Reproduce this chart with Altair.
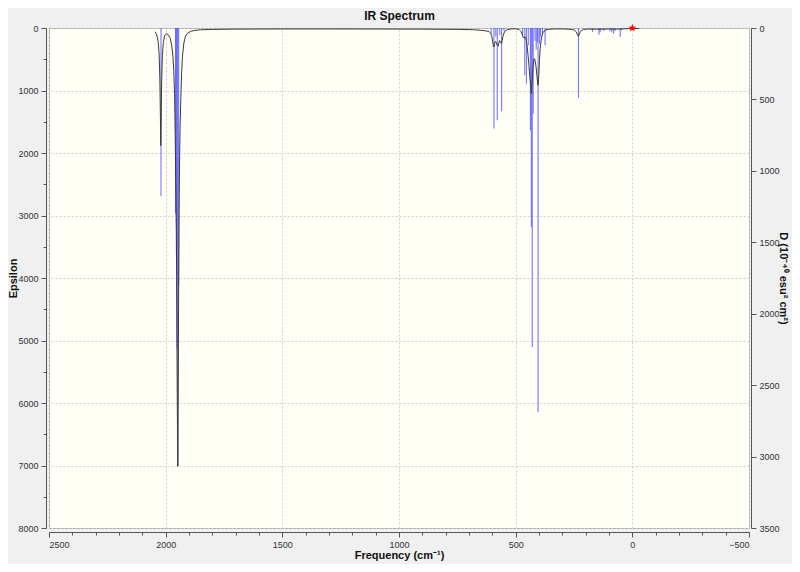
import altair as alt
import pandas as pd

# ---- data ----
curve_freq = [2045, 2038, 2032, 2028, 2025, 2023, 2021, 2019, 2017, 2014, 2010, 2004, 1996, 1988,
              1980, 1974, 1969, 1965, 1962, 1959, 1956, 1954, 1952, 1950, 1948, 1946, 1944, 1942,
              1940, 1938, 1935, 1932, 1928, 1922, 1915, 1905, 1890, 1870, 1850, 1800, 1700, 1500,
              1300, 1100, 900, 750, 680, 650, 630, 615, 608, 603, 599, 596, 593, 590, 587, 584,
              580, 578, 575, 572, 569, 565, 561, 558, 555, 550, 545, 535, 520, 500, 485, 476,
              471, 467, 464, 461, 457, 453, 450, 447, 443, 439, 436, 433, 430, 427, 424, 421,
              418, 415, 412, 409, 406, 404, 401, 398, 395, 391, 387, 383, 378, 370, 360, 330,
              290, 260, 248, 241, 237, 234, 231, 228, 224, 218, 210, 195, 170, 140, 100, 60,
              30, 0, -30]
curve_eps = [60, 110, 220, 420, 800, 1300, 1880, 1350, 820, 430, 230, 120, 90, 110,
             170, 280, 450, 700, 1050, 1700, 2700, 3300, 4800, 6100, 7010, 5600, 3900, 2700,
             2000, 1550, 1150, 750, 450, 240, 130, 80, 50, 35, 28, 22, 18, 15,
             15, 16, 18, 22, 28, 37, 45, 55, 80, 120, 210, 280, 304, 250, 215, 225,
             270, 280, 290, 240, 200, 215, 250, 200, 140, 80, 45, 25, 15, 12, 25, 60,
             117, 150, 160, 145, 150, 230, 320, 437, 600, 800, 900, 1051, 900, 710, 560, 490,
             500, 560, 640, 760, 880, 917, 760, 520, 330, 200, 120, 75, 50, 30, 20, 14,
             16, 22, 35, 60, 90, 120, 130, 110, 70, 40, 25, 17, 18, 20, 15, 18,
             12, 10, 8]

stick_freq = [2020, 1958, 1954, 1951, 1948, 1944, 605, 593, 585, 579, 568, 560, 550,
              470, 461, 454, 446, 437, 433, 429, 425, 417, 412, 407, 404, 397, 393, 385, 374,
              231, 171, 143, 138, 121, 96, 88, 80, 74, 52, 46]
stick_D = [1177, 1300, 1590, 2240, 3070, 1800, 40, 704, 60, 646, 50, 583, 20,
           60, 331, 390, 120, 716, 1393, 2233, 600, 90, 150, 98, 2688, 110, 60, 40, 121,
           488, 28, 47, 30, 20, 22, 30, 40, 20, 63, 15]

marker_freq = [0]
marker_eps = [0]

x_major = [2500, 2000, 1500, 1000, 500, 0, -500]
x_minor = list(range(-500, 2501, 100))
y_left_major = [0, 1000, 2000, 3000, 4000, 5000, 6000, 7000, 8000]
y_left_minor = list(range(0, 8001, 500))
y_right_major = [0, 500, 1000, 1500, 2000, 2500, 3000, 3500]

curve_df = pd.DataFrame({"freq": curve_freq, "eps": curve_eps})
stick_df = pd.DataFrame({"freq": stick_freq, "D": stick_D, "zero": [0] * len(stick_freq)})
marker_df = pd.DataFrame({"freq": marker_freq, "eps": marker_eps})

FONT = "Liberation Sans Narrow, Liberation Sans, Arial"
LABEL_COLOR = "#333333"
AX_COLOR = "#555555"

xscale = alt.Scale(domain=[-500, 2500], reverse=True, nice=False, zero=False)
eps_scale = alt.Scale(domain=[0, 8000], reverse=True, nice=False)
d_scale = alt.Scale(domain=[0, 3500], reverse=True, nice=False)

common_lbl = dict(labelFont=FONT, labelFontSize=9, labelColor=LABEL_COLOR,
                  titleFont=FONT, titleFontSize=11, titleFontWeight="bold", titleColor="#111111",
                  domainColor=AX_COLOR, tickColor=AX_COLOR, format="d")

grid = alt.Chart(marker_df).mark_point(opacity=0).encode(
    x=alt.X("freq:Q", scale=xscale,
            axis=alt.Axis(values=x_major, grid=True, ticks=False, labels=False, domain=False,
                          title=None, orient="bottom", gridColor="#CFCFCF", gridDash=[2, 2],
                          zindex=0)),
    y=alt.Y("eps:Q", scale=eps_scale,
            axis=alt.Axis(values=y_left_major, grid=True, ticks=False, labels=False, domain=False,
                          title=None, orient="left", gridColor="#CFCFCF", gridDash=[2, 2],
                          zindex=0)),
)

minor = alt.Chart(marker_df).mark_point(opacity=0).encode(
    x=alt.X("freq:Q", scale=xscale,
            axis=alt.Axis(values=x_minor, grid=False, labels=False, domain=False, title=None,
                          orient="bottom", offset=4, tickSize=3, tickColor=AX_COLOR, zindex=1)),
    y=alt.Y("eps:Q", scale=eps_scale,
            axis=alt.Axis(values=y_left_minor, grid=False, labels=False, domain=False, title=None,
                          orient="left", offset=3, tickSize=3, tickColor=AX_COLOR, zindex=1)),
)

sticks = alt.Chart(stick_df).mark_rule(color="#5858FF", strokeWidth=1, opacity=0.9).encode(
    x=alt.X("freq:Q", scale=xscale, axis=None),
    y=alt.Y("D:Q", scale=d_scale,
            axis=alt.Axis(values=y_right_major, orient="right", offset=2, tickSize=5,
                          labelPadding=3, grid=False, title="D (10⁻⁴⁰ esu² cm²)",
                          titleAngle=90, titleX=31, titleY=250, titleAlign="center",
                          titleBaseline="middle", zindex=1, **common_lbl)),
    y2="zero:Q",
)

curve = alt.Chart(curve_df).mark_line(color="#3a3a3a", strokeWidth=1).encode(
    x=alt.X("freq:Q", scale=xscale,
            axis=alt.Axis(values=x_major, orient="bottom", offset=4, tickSize=5, labelPadding=3,
                          grid=False, title="Frequency (cm⁻¹)", titleX=350, titleY=23,
                          titleAlign="center", titleBaseline="middle", zindex=1, **common_lbl)),
    y=alt.Y("eps:Q", scale=eps_scale,
            axis=alt.Axis(values=y_left_major, orient="left", offset=3, tickSize=5, labelPadding=3,
                          grid=False, title="Epsilon", titleAngle=270, titleX=-33, titleY=250,
                          titleAlign="center", titleBaseline="middle", zindex=1, **common_lbl)),
)

STAR = ("M0,-1L0.24,-0.32L0.95,-0.31L0.38,0.12L0.59,0.81L0,0.4L-0.59,0.81L-0.38,0.12"
        "L-0.95,-0.31L-0.24,-0.32Z")
marker = alt.Chart(marker_df).mark_point(shape=STAR, filled=True, color="#FF0000", size=70,
                                          opacity=1).encode(
    x=alt.X("freq:Q", scale=xscale,
            axis=alt.Axis(orient="top", ticks=False, labels=False, domain=False, grid=False,
                          title="IR Spectrum", titleFont="Liberation Sans", titleFontSize=12,
                          titleFontWeight="bold", titleColor="#111111", titleX=350, titleY=-13,
                          titleAlign="center", titleBaseline="middle", zindex=1)),
    y=alt.Y("eps:Q", scale=eps_scale, axis=None),
)

chart = alt.layer(grid, minor, sticks, curve, marker).resolve_scale(
    y="independent"
).resolve_axis(
    x="independent", y="independent"
).properties(
    width=700,
    height=500,
    autosize=alt.AutoSizeParams(type="none"),
    padding={"left": 41, "top": 20, "right": 43, "bottom": 36},
    background="#F0F0F0",
).configure_view(
    fill="#FFFFF5", stroke="#A8A8A8", strokeWidth=1
)

chart.save("out.html", embed_options={"renderer": "svg", "actions": False})
